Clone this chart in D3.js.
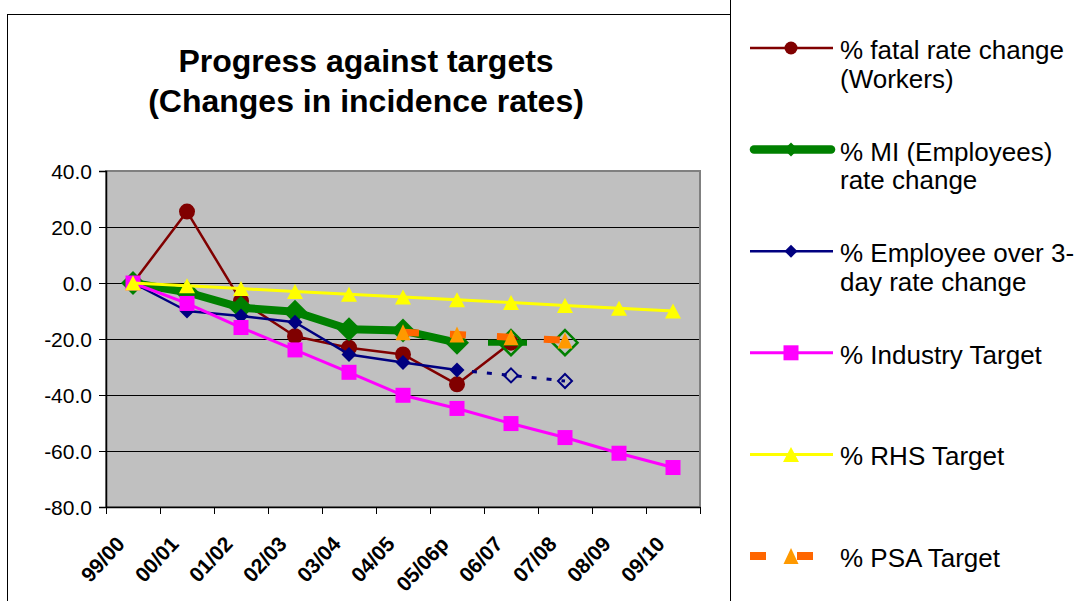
<!DOCTYPE html>
<html><head><meta charset="utf-8">
<script src="https://cdn.jsdelivr.net/npm/d3@7"></script>
<style>
body{margin:0;background:#fff}
svg{display:block}
text{font-family:"Liberation Sans",Arial,sans-serif;fill:#000}
</style>
</head><body>
<svg id="c" width="1082" height="601"></svg>
<script>
// ---- data ----
const categories = ["99/00","00/01","01/02","02/03","03/04","04/05","05/06p","06/07","07/08","08/09","09/10"];
const yTicks = [40, 20, 0, -20, -40, -60, -80];
const fatalRate        = [0, 25.5, -6.4, -19, -23.1, -25.5, -36.2, -21.3, null, null, null];
const miRate           = [0, -3.3, -8.8, -10.3, -16.5, -17, -21.3, null, null, null, null];
const miProjected      = [null, null, null, null, null, null, -21.3, -21.3, -21.3, null, null];
const over3DayRate     = [0, -10, -11.8, -14, -25.5, -28.4, -31.1, null, null, null, null];
const over3DayProjected= [null, null, null, null, null, null, -31.1, -33, -35, null, null];
const industryTarget   = [0, -7.3, -15.9, -23.9, -31.9, -40.1, -44.8, -50.2, -55.2, -60.8, -65.9];
const rhsTarget        = [0, -1, -2, -3, -4, -5, -6, -7, -8, -9, -10];
const psaTarget        = [null, null, null, null, null, -17.6, -18.4, -19.4, -20.5, null, null];
const titleLines = ["Progress against targets", "(Changes in incidence rates)"];
const legendLabels = [
  ["% fatal rate change", "(Workers)"],
  ["% MI (Employees)", "rate change"],
  ["% Employee over 3-", "day rate change"],
  ["% Industry Target"],
  ["% RHS Target"],
  ["% PSA Target"]
];

// ---- layout ----
const svg = d3.select("#c");
const plot = {left: 106, right: 700, top: 171, bottom: 507};
const x = d3.scaleBand().domain(categories).range([plot.left, plot.right]).padding(0);
const cx = i => x(categories[i]) + x.bandwidth() / 2;
const y = d3.scaleLinear().domain([-80, 40]).range([plot.bottom, plot.top]);

svg.append("rect").attr("width", 1082).attr("height", 601).attr("fill", "#fff");

// outer frames
svg.append("line").attr("x1", 7.5).attr("x2", 7.5).attr("y1", 14).attr("y2", 601).attr("stroke", "#000");
svg.append("line").attr("x1", 7).attr("x2", 730).attr("y1", 14.5).attr("y2", 14.5).attr("stroke", "#000");
svg.append("line").attr("x1", 730.5).attr("x2", 730.5).attr("y1", 0).attr("y2", 601).attr("stroke", "#000");

// title
const title = svg.append("text").attr("text-anchor", "middle")
  .style("font-weight", "bold").style("font-size", "32px");
titleLines.forEach((t, i) => title.append("tspan").attr("x", 366).attr("y", 72 + i * 40).text(t));

// plot area
svg.append("rect").attr("x", plot.left).attr("y", plot.top)
  .attr("width", plot.right - plot.left).attr("height", plot.bottom - plot.top)
  .attr("fill", "#C0C0C0").attr("stroke", "#808080").attr("stroke-width", 2);

// gridlines
svg.append("g").selectAll("line").data(yTicks.filter(v => v > -80 && v < 40)).join("line")
  .attr("x1", plot.left).attr("x2", plot.right - 1)
  .attr("y1", d => Math.round(y(d)) + 0.5).attr("y2", d => Math.round(y(d)) + 0.5)
  .attr("stroke", "#000").attr("stroke-width", 1);

// y axis
const yAxis = svg.append("g").attr("transform", `translate(${plot.left},0)`)
  .call(d3.axisLeft(y).tickValues(yTicks).tickFormat(d => d.toFixed(1)).tickSize(7).tickPadding(7));
yAxis.select(".domain").attr("stroke", "#000").attr("stroke-width", 1.5);
yAxis.selectAll(".tick line").attr("stroke", "#000");
yAxis.selectAll(".tick text").style("font-size", "21px").attr("dy", "0.36em");

// x axis
const xAxis = svg.append("g").attr("transform", `translate(0,${plot.bottom})`)
  .call(d3.axisBottom(x).tickSize(0).tickFormat(""));
xAxis.select(".domain").attr("stroke", "#000").attr("stroke-width", 1.5);
svg.append("g").selectAll("line").data(d3.range(categories.length + 1)).join("line")
  .attr("x1", i => plot.left + i * x.bandwidth() + 0.5)
  .attr("x2", i => plot.left + i * x.bandwidth() + 0.5)
  .attr("y1", plot.bottom).attr("y2", plot.bottom + 7).attr("stroke", "#000");
svg.append("g").selectAll("text").data(categories).join("text")
  .attr("transform", (d, i) => `translate(${cx(i) - 7},${545}) rotate(-47)`)
  .attr("text-anchor", "end").style("font-weight", "bold").style("font-size", "21px")
  .text(d => d);

// ---- markers ----
function marker(g, type, px, py, o) {
  const fill = o.fill || "none", stroke = o.stroke || "none", sw = o.sw || 0;
  if (type === "circle") {
    g.append("circle").attr("cx", px).attr("cy", py).attr("r", o.s).attr("fill", fill).attr("stroke", stroke).attr("stroke-width", sw);
  } else if (type === "diamond") {
    const s = o.s;
    g.append("path").attr("d", `M${px},${py - s}L${px + s},${py}L${px},${py + s}L${px - s},${py}Z`)
      .attr("fill", fill).attr("stroke", stroke).attr("stroke-width", sw);
  } else if (type === "square") {
    g.append("rect").attr("x", px - o.s / 2).attr("y", py - o.s / 2).attr("width", o.s).attr("height", o.s).attr("fill", fill);
  } else if (type === "triangle") {
    const w = o.w, h = o.h;
    g.append("path").attr("d", `M${px},${py - h / 2}L${px + w / 2},${py + h / 2}L${px - w / 2},${py + h / 2}Z`).attr("fill", fill);
  }
}

const line = d3.line().defined(d => d.v != null).x(d => cx(d.i)).y(d => y(d.v));
const pts = arr => arr.map((v, i) => ({v, i}));

function series(arr, st) {
  const g = svg.append("g");
  g.append("path").attr("d", line(pts(arr))).attr("fill", "none")
    .attr("stroke", st.color).attr("stroke-width", st.width)
    .attr("stroke-linejoin", "round")
    .attr("stroke-dasharray", st.dash || null);
  arr.forEach((v, i) => {
    if (v == null) return;
    if (st.skipFirstMarker && i === arr.findIndex(a => a != null)) return;
    marker(g, st.marker, cx(i), y(v), st.mk);
  });
}

series(fatalRate, {color: "#800000", width: 2.5, marker: "circle", mk: {s: 8, fill: "#800000"}});
series(miRate, {color: "#008000", width: 8, marker: "diamond", mk: {s: 12, fill: "#008000"}});
series(miProjected, {color: "#008000", width: 6, dash: "0 31 39 1000", marker: "diamond", skipFirstMarker: true,
  mk: {s: 12.5, fill: "none", stroke: "#008000", sw: 2.5}});
series(over3DayRate, {color: "#000080", width: 2.5, marker: "diamond", mk: {s: 7.5, fill: "#000080"}});
series(over3DayProjected, {color: "#000080", width: 3, dash: "5 10", marker: "diamond", skipFirstMarker: true,
  mk: {s: 7, fill: "none", stroke: "#000080", sw: 2}});
series(industryTarget, {color: "#FF00FF", width: 3, marker: "square", mk: {s: 15, fill: "#FF00FF"}});
series(rhsTarget, {color: "#FFFF00", width: 3, marker: "triangle", mk: {w: 16, h: 15, fill: "#FFFF00"}});
series(psaTarget, {color: "#FF6600", width: 7, dash: "16 31", marker: "triangle", mk: {w: 15, h: 16, fill: "#FF9900"}});

// ---- legend ----
const legendStyles = [
  {color: "#800000", width: 2.5, marker: "circle", mk: {s: 6.5, fill: "#800000"}},
  {color: "#008000", width: 8.5, cap: "round", marker: "diamond", mk: {s: 7, fill: "#008000"}},
  {color: "#000080", width: 2.5, marker: "diamond", mk: {s: 6.5, fill: "#000080"}},
  {color: "#FF00FF", width: 3, marker: "square", mk: {s: 15, fill: "#FF00FF"}},
  {color: "#FFFF00", width: 3, marker: "triangle", mk: {w: 16, h: 15, fill: "#FFFF00"}},
  {color: "#FF6600", width: 8, dash: "16 31", marker: "triangle", mk: {w: 15, h: 16, fill: "#FF9900"}}
];
const lg = svg.append("g");
legendLabels.forEach((lines, i) => {
  const ly = 48 + i * 101.6;
  const st = legendStyles[i];
  lg.append("line").attr("x1", st.cap ? 754 : 750).attr("x2", st.cap ? 831 : (st.dash ? 813 : 833))
    .attr("y1", ly).attr("y2", ly).attr("stroke", st.color).attr("stroke-width", st.width)
    .attr("stroke-linecap", st.cap || "butt").attr("stroke-dasharray", st.dash || null);
  marker(lg, st.marker, 791, ly, st.mk);
  const t = lg.append("text").style("font-size", "26px");
  lines.forEach((s, k) => t.append("tspan").attr("x", 840).attr("y", ly + 11 + k * 28.5).text(s));
});
</script>
</body></html>
